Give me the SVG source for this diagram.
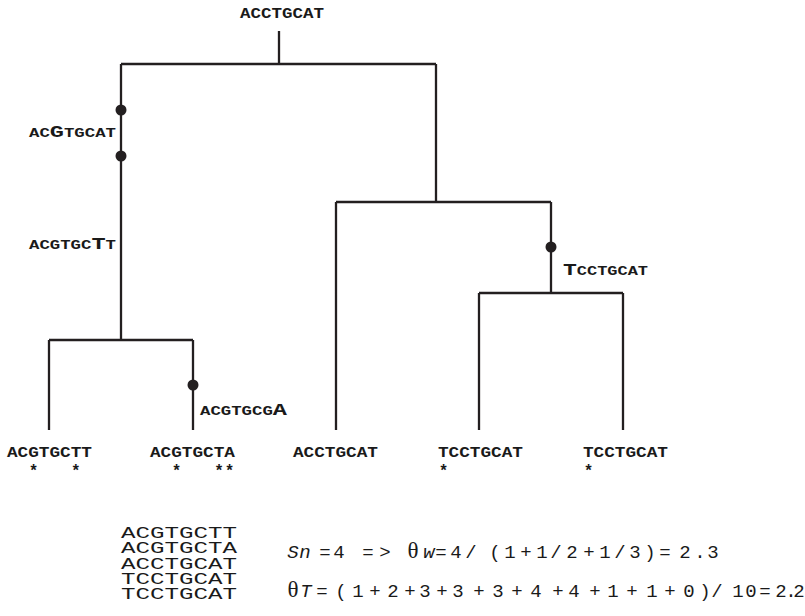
<svg xmlns="http://www.w3.org/2000/svg" width="805" height="616" viewBox="0 0 805 616">
  <style>
    .edge { fill: none; stroke: #231f20; stroke-width: 2.3; stroke-linecap: butt; }
    .dot { fill: #231f20; }
    .seq { font-family: "Liberation Mono", "DejaVu Sans Mono", monospace; font-weight: bold; font-size: 15px; fill: #1a1a1a; }
    .sc { font-size: 12.5px; }
    .big { font-size: 17px; }
    .star { font-family: "Liberation Mono", "DejaVu Sans Mono", monospace; font-weight: bold; font-size: 16px; fill: #1a1a1a; text-anchor: middle; }
    .aln { font-family: "Liberation Mono", "DejaVu Sans Mono", monospace; font-size: 16px; fill: #1a1a1a; }
    .eq { font-family: "Liberation Mono", "DejaVu Sans Mono", monospace; font-size: 19px; fill: #1a1a1a; text-anchor: middle; }
    .it { font-style: italic; }
    .th { font-family: "Liberation Serif", "DejaVu Serif", serif; font-size: 23px; }
  </style>

  <!-- tree branches -->
  <g id="connectors">
    <path class="edge" d="M279,31 V64 M121,64 H436 M121,64 V340 M49,340 H193 M49,340 V430 M193,340 V430"/>
    <path class="edge" d="M436,64 V202 M336,202 H551 M336,202 V430 M551,202 V293 M479,293 H623 M479,293 V430 M623,293 V430"/>
  </g>

  <!-- ancestral sequence -->
  <g id="root">
    <text class="seq" x="240" y="18" textLength="84" lengthAdjust="spacingAndGlyphs">ACCTGCAT</text>
  </g>

  <!-- mutation events along branches -->
  <g id="mut-c3g">
    <circle class="dot" cx="121" cy="110" r="5.5"/>
    <text class="seq" x="29" y="137" textLength="87" lengthAdjust="spacingAndGlyphs"><tspan class="sc">AC</tspan><tspan class="big">G</tspan><tspan class="sc">TGCAT</tspan></text>
  </g>
  <g id="mut-a7t">
    <circle class="dot" cx="121" cy="156" r="5.5"/>
    <text class="seq" x="29" y="249" textLength="87" lengthAdjust="spacingAndGlyphs"><tspan class="sc">ACGTGC</tspan><tspan class="big">T</tspan><tspan class="sc">T</tspan></text>
  </g>
  <g id="mut-t8a">
    <circle class="dot" cx="193" cy="385" r="5.5"/>
    <text class="seq" x="200" y="415" textLength="87" lengthAdjust="spacingAndGlyphs"><tspan class="sc">ACGTGCG</tspan><tspan class="big">A</tspan></text>
  </g>
  <g id="mut-a1t">
    <circle class="dot" cx="551" cy="247" r="5.5"/>
    <text class="seq" x="563" y="275" textLength="85" lengthAdjust="spacingAndGlyphs"><tspan class="big">T</tspan><tspan class="sc">CCTGCAT</tspan></text>
  </g>

  <!-- sampled sequences -->
  <g id="leaf-1">
    <text class="seq" x="7" y="457" textLength="85" lengthAdjust="spacingAndGlyphs">ACGTGCTT</text>
    <text class="star" xml:space="preserve" x="33.5 44 54.6 65.2 75.8" y="476">*   *</text>
  </g>
  <g id="leaf-2">
    <text class="seq" x="150" y="457" textLength="85" lengthAdjust="spacingAndGlyphs">ACGTGCTA</text>
    <text class="star" xml:space="preserve" x="176.5 187 197.7 208.3 219 229.5" y="476">*   **</text>
  </g>
  <g id="leaf-3">
    <text class="seq" x="293" y="457" textLength="85" lengthAdjust="spacingAndGlyphs">ACCTGCAT</text>
  </g>
  <g id="leaf-4">
    <text class="seq" x="438" y="457" textLength="85" lengthAdjust="spacingAndGlyphs">TCCTGCAT</text>
    <text class="star" x="443.5" y="476">*</text>
  </g>
  <g id="leaf-5">
    <text class="seq" x="583" y="457" textLength="85" lengthAdjust="spacingAndGlyphs">TCCTGCAT</text>
    <text class="star" x="588.5" y="476">*</text>
  </g>

  <!-- alignment of the sample -->
  <g id="alignment">
    <text class="aln" x="121" y="538" textLength="116" lengthAdjust="spacingAndGlyphs">ACGTGCTT</text>
    <text class="aln" x="121" y="553.3" textLength="116" lengthAdjust="spacingAndGlyphs">ACGTGCTA</text>
    <text class="aln" x="121" y="568.5" textLength="116" lengthAdjust="spacingAndGlyphs">ACCTGCAT</text>
    <text class="aln" x="121" y="583.8" textLength="116" lengthAdjust="spacingAndGlyphs">TCCTGCAT</text>
    <text class="aln" x="121" y="599" textLength="116" lengthAdjust="spacingAndGlyphs">TCCTGCAT</text>
  </g>

  <!-- estimators -->
  <g id="estimates">
    <text class="eq" xml:space="preserve" y="558"><tspan class="it" x="293 305">Sn</tspan><tspan x="316 325 332 339 347 355 368 376 385 392 398"> = 4  = >  </tspan><tspan class="th" x="413">θ</tspan><tspan class="it" x="429">w</tspan><tspan x="435 441 448 456 463 471 483 495 510 518 526 534 542 556 572 580 589 597 605 620 635 650 657 665 675 685 700 713"> = 4 / (1 + 1/2 + 1/3) = 2.3</tspan></text>
    <text class="eq" xml:space="preserve" y="597"><tspan class="th" x="293">θ</tspan><tspan class="it" x="306">T</tspan><tspan x="314 322 331 341 358 366 375 384 393 401 410 417 425 433 442 450 458 468 479 488 498 507 517 526 536 547 558 566 574 584 595 604 613 622 632 642 652 661 670 679 689 705 710 717 727 738 751 757 765 772 781 791 799"> = (1 + 2 + 3 + 3 + 3 + 4 + 4 + 1 + 1 + 0) / 10 = 2.2</tspan></text>
  </g>
</svg>
